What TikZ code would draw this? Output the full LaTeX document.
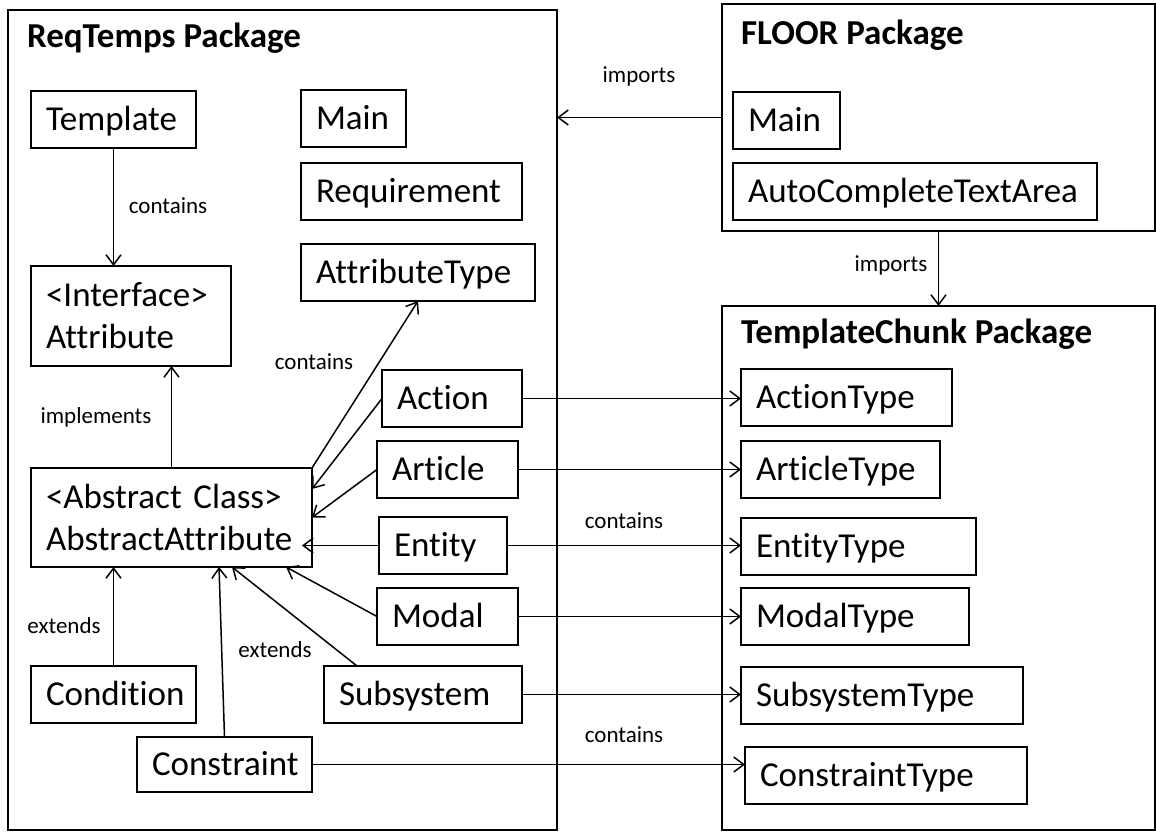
\documentclass[tikz,border=0pt]{standalone}
\usepackage{fontspec}
\setmainfont{Carlito}[Ligatures=NoCommon]
\usetikzlibrary{arrows.meta}
\hyphenpenalty=10000
\newcommand\clsfont{\fontsize{35}{42}\selectfont}
\newcommand\relfont{\fontsize{23}{27}\selectfont}

\begin{document}
\begin{tikzpicture}[x=1pt, y=-1pt, line width=1.5pt,
  >={Straight Barb[length=10pt,width=15pt]},
  pkg/.style={draw, line width=1.5pt, outer sep=0pt, inner sep=0pt, anchor=north west},
  cls/.style={draw, line width=1.5pt, outer sep=0pt, inner xsep=15pt, inner ysep=0pt, anchor=north west,
    align=left, font=\clsfont, text height=22pt, text depth=0pt, minimum height=57pt},
  title/.style={anchor=base west, font=\clsfont\bfseries},
  rel/.style={anchor=base, font=\relfont}]
\useasboundingbox (0,0) rectangle (1156,832);

\node[pkg, minimum width=549pt, minimum height=820pt] (reqtemps) at (8,10) {};
\node[pkg, minimum width=433pt, minimum height=227pt] (floor) at (722,4) {};
\node[pkg, minimum width=433pt, minimum height=524pt] (chunk) at (722,306) {};

\node[title] (reqtitle) at (23,48) {ReqTemps Package};
\node[title] (floortitle) at (737,45) {FLOOR Package};
\node[title] (chunktitle) at (737,343) {TemplateChunk Package};

\node[cls, minimum width=165pt, text width=135pt] (template) at (31,91) {Template};
\node[cls, minimum width=105pt, text width=75pt] (main) at (301,90) {Main};
\node[cls, minimum width=221pt, text width=191pt] (requirement) at (301,163) {Requirement};
\node[cls, minimum width=234pt, text width=204pt] (attrtype) at (301,244) {AttributeType};
\node[cls, minimum width=200pt, minimum height=100pt, text width=170pt, text depth=42pt] (iattr) at (31,266) {<Interface>\\Attribute};
\node[cls, minimum width=281pt, minimum height=99pt, text width=251pt, text depth=41pt] (absattr) at (31,468) {<Abstract Class>\\AbstractAttribute};
\node[cls, minimum width=140pt, text width=110pt] (action) at (382,370) {Action};
\node[cls, minimum width=141pt, text width=111pt] (article) at (377,441) {Article};
\node[cls, minimum width=128pt, text width=98pt] (entity) at (379,517) {Entity};
\node[cls, minimum width=141pt, text width=111pt] (modal) at (377,588) {Modal};
\node[cls, minimum width=198pt, text width=168pt] (subsystem) at (324,666) {Subsystem};
\node[cls, minimum width=165pt, text width=135pt] (condition) at (31,666) {Condition};
\node[cls, minimum width=175pt, minimum height=55pt, text width=145pt] (constraint) at (137,737) {Constraint};

\node[cls, minimum width=107pt, text width=77pt] (floormain) at (733,92) {Main};
\node[cls, minimum width=364pt, text width=334pt] (autotext) at (733,163) {AutoCompleteTextArea};

\node[cls, minimum width=211pt, text width=181pt] (actiontype) at (741,369) {ActionType};
\node[cls, minimum width=199pt, text width=169pt] (articletype) at (741,441) {ArticleType};
\node[cls, minimum width=235pt, text width=205pt] (entitytype) at (741,518) {EntityType};
\node[cls, minimum width=228pt, text width=198pt] (modaltype) at (741,588) {ModalType};
\node[cls, minimum width=282pt, text width=252pt] (subsystemtype) at (741,667) {SubsystemType};
\node[cls, minimum width=282pt, text width=252pt] (constrainttype) at (745,747) {ConstraintType};

\node[rel] (containsa) at (168,213) {contains};
\node[rel] (containsb) at (314,369) {contains};
\node[rel] (implements) at (96,423) {implements};
\node[rel] (extendsa) at (64,633) {extends};
\node[rel] (extendsb) at (275,657) {extends};
\node[rel] (importsa) at (639,83) {imports};
\node[rel] (importsb) at (891,271) {imports};
\node[rel] (containsc) at (624,528) {contains};
\node[rel] (containsd) at (624,742) {contains};

\draw[->] (template.south) -- (template.south |- iattr.north);
\draw[->] (absattr.north) -- (absattr.north |- iattr.south);
\draw[->] (absattr.north east) -- (attrtype.south);
\draw[->] (action.west) -- ([yshift=28.5pt]absattr.east);
\draw[->] (article.west) -- (absattr.east);
\draw[->, shorten >=-10pt] (entity.west) -- (entity.west -| absattr.east);
\draw[->] (modal.west) -- ([xshift=-26pt]absattr.south east);
\draw[->] ([xshift=33pt]subsystem.north west) -- ([xshift=-80pt]absattr.south east);
\draw[->] (condition.north) -- (condition.north |- absattr.south);
\draw[->] (constraint.north) -- ([xshift=-93pt]absattr.south east);

\draw[->] (floor.west) -- (floor.west -| reqtemps.east);
\draw[->] (floor.south) -- (chunk.north);
\draw[->] (action.east) -- (action.east -| actiontype.west);
\draw[->] (article.east) -- (article.east -| articletype.west);
\draw[->] (entity.east) -- (entity.east -| entitytype.west);
\draw[->] (modal.east) -- (modal.east -| modaltype.west);
\draw[->] (subsystem.east) -- (subsystem.east -| subsystemtype.west);
\draw[->] (constraint.east) -- (constraint.east -| constrainttype.west);
\end{tikzpicture}
\end{document}
